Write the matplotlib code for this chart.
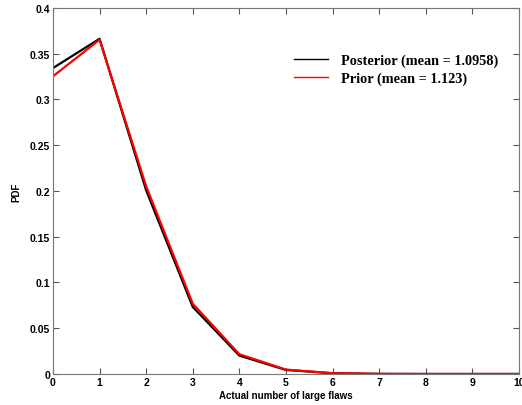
import matplotlib
matplotlib.use("Agg")
import matplotlib.pyplot as plt

flaws = [0, 1, 2, 3, 4, 5, 6, 7, 8, 9, 10]
posterior = [0.3343, 0.3663, 0.2007, 0.0733, 0.0201, 0.0044, 0.0008, 0.0001, 0.0, 0.0, 0.0]
prior = [0.3253, 0.3653, 0.2051, 0.0768, 0.0216, 0.0048, 0.0009, 0.0001, 0.0, 0.0, 0.0]
xticks = [0, 1, 2, 3, 4, 5, 6, 7, 8, 9, 10]
yticks = [0, 0.05, 0.1, 0.15, 0.2, 0.25, 0.3, 0.35, 0.4]
ytick_labels = ["0", "0.05", "0.1", "0.15", "0.2", "0.25", "0.3", "0.35", "0.4"]

fig = plt.figure(figsize=(5.22, 4.06), dpi=100)
ax = fig.add_axes([0.1015, 0.0764, 0.8925, 0.9016])
ax.plot(flaws, posterior, color="black", lw=1.6, label="Posterior (mean = 1.0958)")
ax.plot(flaws, prior, color="red", lw=1.6, label="Prior (mean = 1.123)")
ax.set_xlim(0, 10)
ax.set_ylim(0, 0.4)
ax.set_xticks(xticks)
ax.set_yticks(yticks)
ax.set_yticklabels(ytick_labels)
ax.tick_params(direction="in", top=True, right=True, length=4, width=0.8,
               color="#555555", labelsize=7.5, pad=2)
for lbl in ax.get_xticklabels() + ax.get_yticklabels():
    lbl.set_fontweight("bold")
    lbl.set_family("Liberation Sans")
for s in ax.spines.values():
    s.set_color("#777777")
    s.set_linewidth(0.8)
ax.set_xlabel("Actual number of large flaws", fontsize=7, fontweight="bold",
              family="Liberation Sans", labelpad=2)
ax.set_ylabel("PDF", fontsize=7, fontweight="bold", family="Liberation Sans", labelpad=6)
leg = ax.legend(loc="upper left", bbox_to_anchor=(0.49, 0.91), frameon=False,
                prop={"family": "Liberation Serif", "weight": "bold", "size": 10.3},
                handlelength=2.4, handletextpad=0.9, labelspacing=0.3)
for h in leg.get_lines():
    h.set_linewidth(1.0)
fig.savefig("out.png", dpi=100)
